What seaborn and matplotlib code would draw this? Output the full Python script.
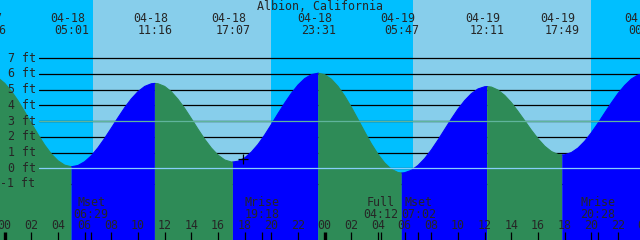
import matplotlib
matplotlib.use("Agg")
import matplotlib.pyplot as plt
import matplotlib.transforms as mtransforms
import pandas as pd
import seaborn as sns

# ---------------- data ----------------
title = "Albion, California"

# tide extremes, hours from 04-18 00:00
event_hours = [-1.23, 5.017, 11.267, 17.117, 23.517, 29.783, 36.183, 41.817, 48.083]
event_heights = [5.95, 0.10, 5.40, 0.40, 6.05, -0.30, 5.20, 0.85, 6.05]
event_kinds = ["H", "L", "H", "L", "H", "L", "H", "L", "H"]
event_dates = ["04-17", "04-18", "04-18", "04-18", "04-18", "04-19", "04-19", "04-19", "04-20"]
event_times = ["22:46", "05:01", "11:16", "17:07", "23:31", "05:47", "12:11", "17:49", "00:05"]

# tide height every half hour
sample_hours = [-1.0, -0.5, 0.0, 0.5, 1.0, 1.5, 2.0, 2.5, 3.0, 3.5, 4.0, 4.5,
                5.0, 5.5, 6.0, 6.5, 7.0, 7.5, 8.0, 8.5, 9.0, 9.5, 10.0, 10.5,
                11.0, 11.5, 12.0, 12.5, 13.0, 13.5, 14.0, 14.5, 15.0, 15.5,
                16.0, 16.5, 17.0, 17.5, 18.0, 18.5, 19.0, 19.5, 20.0, 20.5,
                21.0, 21.5, 22.0, 22.5, 23.0, 23.5, 24.0, 24.5, 25.0, 25.5,
                26.0, 26.5, 27.0, 27.5, 28.0, 28.5, 29.0, 29.5, 30.0, 30.5,
                31.0, 31.5, 32.0, 32.5, 33.0, 33.5, 34.0, 34.5, 35.0, 35.5,
                36.0, 36.5, 37.0, 37.5, 38.0, 38.5, 39.0, 39.5, 40.0, 40.5,
                41.0, 41.5, 42.0, 42.5, 43.0, 43.5, 44.0, 44.5, 45.0, 45.5,
                46.0, 46.5, 47.0, 47.5, 48.0]
sample_heights = [5.93, 5.76, 5.41, 4.91, 4.30, 3.60, 2.87, 2.15, 1.48, 0.91,
                  0.48, 0.20, 0.10, 0.18, 0.42, 0.80, 1.31, 1.91, 2.56, 3.22,
                  3.86, 4.42, 4.88, 5.21, 5.38, 5.38, 5.21, 4.87, 4.39, 3.81,
                  3.16, 2.49, 1.85, 1.29, 0.84, 0.53, 0.40, 0.45, 0.66, 1.03,
                  1.52, 2.12, 2.79, 3.48, 4.15, 4.77, 5.30, 5.71, 5.96, 6.05,
                  5.96, 5.67, 5.21, 4.60, 3.89, 3.11, 2.32, 1.56, 0.89, 0.34,
                  -0.06, -0.27, -0.28, -0.13, 0.18, 0.62, 1.17, 1.80, 2.47, 3.14,
                  3.77, 4.31, 4.75, 5.05, 5.19, 5.17, 4.98, 4.64, 4.18, 3.62,
                  3.03, 2.43, 1.88, 1.41, 1.07, 0.88, 0.86, 1.00, 1.29, 1.72,
                  2.26, 2.87, 3.52, 4.16, 4.76, 5.27, 5.68, 5.94, 6.05]

# current time marker
now_hour = 17.88
now_height = 0.60

# daylight
sunrise_hours = [6.65, 30.65]
sunset_hours = [19.97, 43.97]

# moon events
moon_hours = [6.483, 19.30, 28.20, 31.033, 44.467]
moon_names = ["Mset", "Mrise", "Full", "Mset", "Mrise"]
moon_times = ["06:29", "19:18", "04:12", "07:02", "20:28"]

# axis
hour_ticks = [0, 2, 4, 6, 8, 10, 12, 14, 16, 18, 20, 22, 24, 26, 28, 30, 32,
              34, 36, 38, 40, 42, 44, 46, 48]
hour_labels = ["00", "02", "04", "06", "08", "10", "12", "14", "16", "18", "20",
               "22", "00", "02", "04", "06", "08", "10", "12", "14", "16", "18",
               "20", "22", "00"]
midnight_hours = [0, 24, 48]
ft_levels = [7, 6, 5, 4, 3, 2, 1, 0, -1]
ft_labels = ["7 ft", "6 ft", "5 ft", "4 ft", "3 ft", "2 ft", "1 ft", "0 ft", "-1 ft"]
msl_level = 3.0
datum_level = 0.0

# ---------------- style ----------------
NIGHT = "#00bfff"
DAY = "#87ceeb"
FLOOD = "#0000ff"
EBB = "#2e8b57"
DATUM = "#87cefa"
MSL = "#5fb49c"
FONT = "DejaVu Sans Mono"
FS = 8.4

sns.set_theme(style="white")
plt.rcParams["font.family"] = [FONT, "DejaVu Sans"]

W, H = 640, 240
PXH = 13.333        # pixels per hour
X0 = 4.7            # pixel of 00:00
PXF = 15.714        # pixels per foot
Y0 = 168.3          # pixel (from top) of 0 ft

fig = plt.figure(figsize=(W / 100, H / 100), dpi=100)
ax = fig.add_axes([0, 0, 1, 1])
ax.axis("off")

# sky
ax.axvspan(-10, 100, color=NIGHT, lw=0, zorder=0)
for a, b in zip(sunrise_hours, sunset_hours):
    ax.axvspan(a, b, color=DAY, lw=0, zorder=0.5)

# gridlines (behind water)
for lv in ft_levels:
    ax.axhline(lv, xmin=39 / W, xmax=1, color="black", lw=0.9, zorder=1)

# tide curve, split into rising / falling segments between extremes
pts = sorted(zip(sample_hours + event_hours, sample_heights + event_heights))
rows = []
for i in range(len(event_hours) - 1):
    a, b = event_hours[i], event_hours[i + 1]
    phase = "rising" if event_kinds[i] == "L" else "falling"
    for t, h in pts:
        if a <= t <= b:
            rows.append((i, phase, t, h))
df = pd.DataFrame(rows, columns=["seg", "phase", "hour", "ft"])
pal = {"rising": FLOOD, "falling": EBB}
for seg, sub in df.groupby("seg"):
    ax.fill_between(sub["hour"], sub["ft"], -20, color=pal[sub["phase"].iloc[0]],
                    lw=0, zorder=2)
sns.lineplot(data=df, x="hour", y="ft", hue="phase", units="seg", estimator=None,
             palette=pal, legend=False, lw=0.8, ax=ax, zorder=3)
ax.set_xlim(-X0 / PXH, (W - X0) / PXH)
ax.set_ylim(-(H - Y0) / PXF, Y0 / PXF)
ax.axis("off")

# datum and mean sea level lines (over water)
ax.axhline(msl_level, xmin=39 / W, xmax=1, color=MSL, lw=0.9, zorder=4)
ax.axhline(datum_level, xmin=39 / W, xmax=1, color=DATUM, lw=0.9, zorder=4)

# current time marker
ax.plot([now_hour], [now_height], marker="+", color="black", ms=6.5, mew=0.9,
        zorder=6, ls="none")

xtr = ax.get_xaxis_transform()


def yf(px):
    return 1 - px / H


# title and extreme labels
ax.text(0.5, yf(10), title, transform=ax.transAxes, ha="center", va="baseline",
        fontsize=FS, family=FONT, zorder=7)
for t, d, tm in zip(event_hours, event_dates, event_times):
    ax.text(t - 4 / PXH, yf(22), d, transform=xtr, ha="center", va="baseline",
            fontsize=FS, family=FONT, zorder=7, clip_on=False)
    ax.text(t, yf(34.3), tm, transform=xtr, ha="center", va="baseline",
            fontsize=FS, family=FONT, zorder=7, clip_on=False)

# y labels
ytr = mtransforms.blended_transform_factory(ax.transAxes, ax.transData)
for lv, lab in zip(ft_levels, ft_labels):
    ax.text(35.5 / W, lv - 3.4 / PXF, lab, transform=ytr, ha="right",
            va="baseline", fontsize=FS, family=FONT, zorder=7)

# moon labels
for t, n, tm in zip(moon_hours, moon_names, moon_times):
    ax.text(t, yf(206), n, transform=xtr, ha="center", va="baseline",
            fontsize=FS, family=FONT, zorder=7)
    ax.text(t, yf(218), tm, transform=xtr, ha="center", va="baseline",
            fontsize=FS, family=FONT, zorder=7)

# hour ticks and labels
for t, lab in zip(hour_ticks, hour_labels):
    ax.text(t, yf(229), lab, transform=xtr, ha="center", va="baseline",
            fontsize=FS, family=FONT, zorder=7, clip_on=False)
thin = [t for t in hour_ticks if t not in midnight_hours]
ax.vlines(thin, 0, 8 / H, transform=xtr, color="black", lw=0.9, zorder=7)
ax.vlines(midnight_hours, 0, 8 / H, transform=xtr, color="black", lw=2.4, zorder=7)
ax.vlines(moon_hours, 0, 8 / H, transform=xtr, color="black", lw=0.9, zorder=7)

fig.savefig("out.png", dpi=100)
